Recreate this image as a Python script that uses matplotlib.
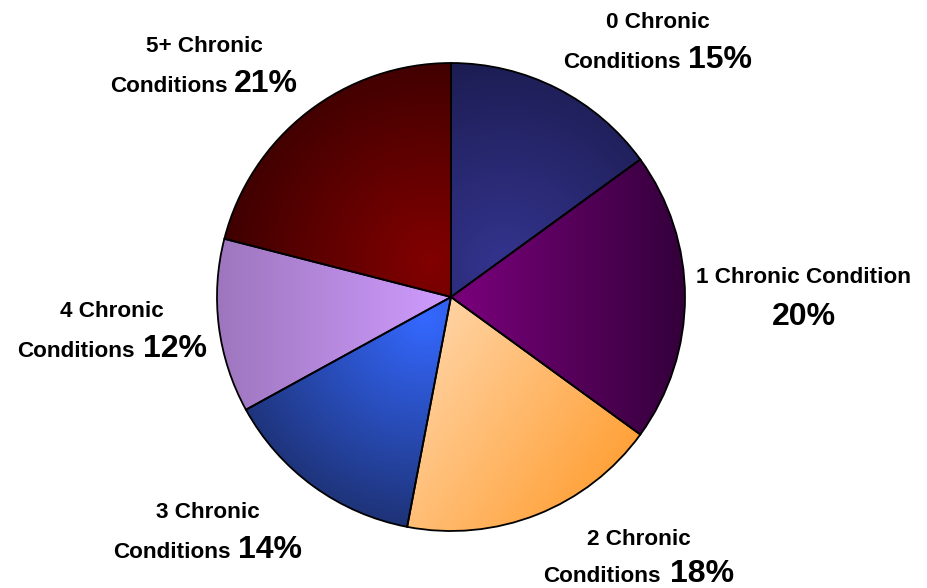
import numpy as np
import matplotlib
matplotlib.use("Agg")
import matplotlib.pyplot as plt
from matplotlib.colors import to_rgb

# ---- data ----
categories = ["0 Chronic Conditions", "1 Chronic Condition", "2 Chronic Conditions",
              "3 Chronic Conditions", "4 Chronic Conditions", "5+ Chronic Conditions"]
line1 = ["0 Chronic", "1 Chronic Condition", "2 Chronic", "3 Chronic", "4 Chronic", "5+ Chronic"]
shares = [15, 20, 18, 14, 12, 21]
pct_labels = ["15%", "20%", "18%", "14%", "12%", "21%"]

W, H = 928, 588
fig = plt.figure(figsize=(W / 100, H / 100), dpi=100)
ax = fig.add_axes([0, 0, 1, 1])

def Y(ypx):
    return H - ypx

cx, cy, R = 451, Y(297), 234

wedges, _ = ax.pie(shares, startangle=90, counterclock=False, center=(cx, cy), radius=R,
                   wedgeprops=dict(edgecolor="black", linewidth=1.3))
ax.set_xlim(0, W)
ax.set_ylim(0, H)
ax.set_aspect("equal")
ax.axis("off")

# gradient styles per wedge: (kind, p0, p1/radius, color0, color1)
grads = [
    ("radial", (505, 265), 240, "#34348f", "#19194a"),
    ("linear", (470, 300), (686, 300), "#760078", "#33003a"),
    ("linear", (430, 325), (640, 475), "#ffd3a3", "#ff9d30"),
    ("radial", (425, 318), 235, "#3468ff", "#1b2c66"),
    ("linear", (218, 330), (450, 330), "#9e76be", "#cf9cff"),
    ("radial", (430, 262), 235, "#820000", "#360000"),
]

n = 400
xs = np.linspace(cx - R, cx + R, n)
ys = np.linspace(cy - R, cy + R, n)
X, Yg = np.meshgrid(xs, ys)

for w, g in zip(wedges, grads):
    kind, p0, p1, c0, c1 = g
    x0, y0 = p0[0], Y(p0[1])
    if kind == "linear":
        x1, y1 = p1[0], Y(p1[1])
        dx, dy = x1 - x0, y1 - y0
        t = ((X - x0) * dx + (Yg - y0) * dy) / (dx * dx + dy * dy)
    else:
        t = np.hypot(X - x0, Yg - y0) / p1
    t = np.clip(t, 0, 1)[..., None]
    img = (1 - t) * np.array(to_rgb(c0)) + t * np.array(to_rgb(c1))
    im = ax.imshow(img, extent=(cx - R, cx + R, cy - R, cy + R), origin="lower",
                   zorder=1, interpolation="bilinear")
    im.set_clip_path(w)
    w.set_facecolor("none")
    w.set_zorder(2)

ax.set_xlim(0, W)
ax.set_ylim(0, H)

fam = ["Liberation Sans", "DejaVu Sans"]
small, big = 16.2, 23

# two-line labels: (left x of line 2, right x of line 2, baseline line1, baseline line2)
two_line = {
    0: (563, 752, 28, 68),
    2: (543, 734, 545, 582),
    3: (113, 302, 518, 558),
    4: (17, 207, 317, 357),
    5: (110, 298, 52, 92),
}
for i, (xl, xr, b1, b2) in two_line.items():
    ax.text((xl + xr) / 2, Y(b1), line1[i], ha="center", va="baseline",
            fontsize=small, fontweight="bold", family=fam)
    ax.text(xl, Y(b2), "Conditions", ha="left", va="baseline",
            fontsize=small, fontweight="bold", family=fam)
    ax.text(xr, Y(b2), pct_labels[i], ha="right", va="baseline",
            fontsize=big, fontweight="bold", family=fam)

# label for slice 1
ax.text(804, Y(283), line1[1], ha="center", va="baseline",
        fontsize=small, fontweight="bold", family=fam)
ax.text(804, Y(325), pct_labels[1], ha="center", va="baseline",
        fontsize=big, fontweight="bold", family=fam)

fig.savefig("out.png", dpi=100)
